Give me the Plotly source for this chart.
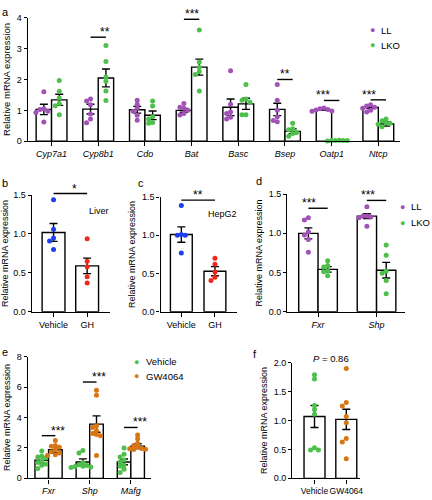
import plotly.graph_objects as go

W, H = 432, 500
FONT = "Liberation Sans, Arial, sans-serif"
PURPLE = "#a052b6"
GREEN = "#4dbf4a"
BLUE = "#1e3ef2"
RED = "#f0281c"
ORANGE = "#d97614"

# ---------------- data ----------------
# panel a
a_genes = ["Cyp7a1", "Cyp8b1", "Cdo", "Bat", "Basc", "Bsep", "Oatp1", "Ntcp"]
a_ll_mean = [1.03, 1.04, 1.02, 1.00, 1.10, 1.03, 1.02, 1.09]
a_ll_sem = [0.17, 0.16, 0.11, 0.06, 0.27, 0.20, 0.02, 0.03]
a_lko_mean = [1.34, 2.05, 0.84, 2.40, 1.21, 0.32, 0.02, 0.56]
a_lko_sem = [0.18, 0.29, 0.14, 0.26, 0.18, 0.08, 0.01, 0.07]
a_ll_pts = [
    [1.60, 1.05, 1.03, 0.97, 0.93, 0.62],
    [1.37, 1.30, 1.18, 0.88, 0.72, 0.60],
    [1.33, 1.20, 1.07, 0.97, 0.84, 0.68],
    [1.22, 1.10, 1.07, 1.00, 0.90, 0.85],
    [2.28, 1.20, 0.95, 0.90, 0.78, 0.72],
    [1.84, 1.33, 1.00, 0.79, 0.67, 0.63],
    [1.08, 1.05, 1.03, 1.01, 0.98, 0.97],
    [1.18, 1.14, 1.10, 1.07, 1.00, 0.95],
]
a_lko_pts = [
    [1.97, 1.62, 1.40, 1.22, 1.15, 0.86],
    [3.10, 2.58, 2.08, 1.94, 1.63, 1.32],
    [1.30, 1.14, 0.79, 0.72, 0.61, 0.58],
    [3.60, 2.57, 2.40, 2.26, 2.16, 1.63],
    [1.84, 1.37, 1.33, 1.26, 0.86, 0.86],
    [0.58, 0.40, 0.37, 0.28, 0.25, 0.16],
    [0.03, 0.02, 0.02, 0.02, 0.02, 0.01],
    [0.72, 0.66, 0.59, 0.58, 0.55, 0.47],
]
a_sig_idx = [1, 3, 5, 6, 7]
a_sig_txt = ["**", "***", "**", "***", "***"]
a_sig_y = [3.37, 3.95, 2.00, 1.32, 1.34]
a_yticks = [0, 1, 2, 3, 4]

# panel b
b_cats = ["Vehicle", "GH"]
b_mean = [1.02, 0.59]
b_sem = [0.115, 0.10]
b_pts = [[1.44, 1.06, 0.95, 0.91, 0.80], [0.94, 0.65, 0.58, 0.45, 0.37]]
b_sig = ("*", 1.52)

# panel c
c_cats = ["Vehicle", "GH"]
c_mean = [1.01, 0.53]
c_sem = [0.10, 0.06]
c_pts = [[1.39, 1.01, 1.00, 1.00, 0.77], [0.70, 0.62, 0.52, 0.45, 0.41]]
c_sig = ("**", 1.46)
bcd_yticks = [0.0, 0.5, 1.0, 1.5]

# panel d
d_genes = ["Fxr", "Shp"]
d_ll_mean = [1.00, 1.22]
d_ll_sem = [0.07, 0.03]
d_lko_mean = [0.54, 0.53]
d_lko_sem = [0.035, 0.10]
d_ll_pts = [[1.20, 1.17, 1.02, 0.98, 0.92, 0.76], [1.34, 1.22, 1.22, 1.21, 1.20, 1.09]]
d_lko_pts = [[0.65, 0.59, 0.57, 0.52, 0.51, 0.46], [0.85, 0.72, 0.52, 0.49, 0.40, 0.23]]
d_sig_txt = ["***", "***"]
d_sig_y = [1.32, 1.42]

# panel e
e_genes = ["Fxr", "Shp", "Mafg"]
e_veh_mean = [1.19, 1.08, 1.08]
e_veh_sem = [0.20, 0.20, 0.19]
e_gw_mean = [1.88, 3.57, 2.12]
e_gw_sem = [0.20, 0.54, 0.16]
e_veh_pts = [
    [1.80, 1.47, 1.40, 1.34, 1.15, 1.04, 0.95, 0.86, 0.65],
    [1.84, 1.66, 1.05, 0.90, 0.85, 0.80, 0.78, 0.75, 0.72],
    [2.00, 1.58, 1.40, 1.20, 1.08, 0.86, 0.80, 0.60, 0.39],
]
e_gw_pts = [
    [2.49, 2.16, 2.12, 2.05, 1.90, 1.75, 1.66, 1.55, 1.51],
    [5.80, 5.47, 3.46, 3.35, 3.14, 2.95, 2.88, 2.80, 1.51],
    [2.85, 2.60, 2.31, 2.16, 2.05, 1.97, 1.95, 1.92, 1.90],
]
e_sig_txt = ["***", "***", "***"]
e_sig_y = [2.81, 6.34, 3.35]
e_yticks = [0, 2, 4, 6, 8]

# panel f
f_cats = ["Vehicle", "GW4064"]
f_mean = [1.07, 1.02]
f_sem = [0.19, 0.175]
f_pts = [[1.79, 1.72, 1.26, 1.19, 1.11, 0.53, 0.49, 0.49],
         [1.90, 1.31, 1.25, 1.07, 0.96, 0.69, 0.63, 0.34]]
f_ptext = "<i>P</i> = 0.86"
f_yticks = [0.0, 0.5, 1.0, 1.5, 2.0]

legend_ab = ["LL", "LKO"]
legend_e = ["Vehicle", "GW4064"]

# ---------------- geometry (pixels) ----------------
GEOM = {
    "":  dict(x=(28, 404), y=(13, 139), xr=[-0.51, 7.47], yr=[0, 4]),
    "2": dict(x=(32, 111), y=(194, 313), xr=[-0.65, 1.68], yr=[0, 1.5]),
    "3": dict(x=(162, 239), y=(196, 313), xr=[-0.62, 1.65], yr=[0, 1.5]),
    "4": dict(x=(290, 409), y=(193, 313), xr=[-0.525, 1.49], yr=[0, 1.5]),
    "5": dict(x=(28, 152), y=(359, 483), xr=[-0.506, 2.48], yr=[0, 8]),
    "6": dict(x=(295, 363), y=(365, 483), xr=[-0.70, 1.42], yr=[0, 2]),
}


def xd(x0, x1):
    return [x0 / W, x1 / W]


def yd(top, bot):
    return [1 - bot / H, 1 - top / H]


def to_paper(ax, xv, yv):
    g = GEOM[ax]
    x0, x1 = g["x"]
    top, bot = g["y"]
    px = x0 + (xv - g["xr"][0]) / (g["xr"][1] - g["xr"][0]) * (x1 - x0)
    py = bot - (yv - g["yr"][0]) / (g["yr"][1] - g["yr"][0]) * (bot - top)
    return px / W, 1 - py / H


def swarm(vals, ppu_y, ppu_x, d=4.0):
    placed = []
    res = [0.0] * len(vals)
    order = sorted(range(len(vals)), key=lambda i: -vals[i])
    for i in order:
        v = vals[i]
        for k in [0, -1, 1, -2, 2, -3, 3, -4, 4]:
            c = k * d
            ok = True
            for pv, pc in placed:
                dist = ((c - pc) ** 2 + ((v - pv) * ppu_y) ** 2) ** 0.5
                if dist < d * 0.95:
                    ok = False
                    break
            if ok:
                placed.append((v, c))
                res[i] = c / ppu_x
                break
    return res


fig = go.Figure()
annotations = []
shapes = []

BAR_LINE = dict(color="black", width=1.4)


def ERR(arr):
    return dict(type="data", array=arr, color="black", thickness=1.4, width=4)


def add_bars(xs, means, sems, width, ax):
    fig.add_trace(go.Bar(
        x=xs, y=means, width=width, xaxis="x" + ax, yaxis="y" + ax,
        marker=dict(color="white", line=BAR_LINE),
        error_y=ERR(sems), showlegend=False, hoverinfo="skip"))


def add_points(center, pts, color, ppu_y, ppu_x, ax, size=5):
    offs = swarm(pts, ppu_y, ppu_x)
    fig.add_trace(go.Scatter(
        x=[center + o for o in offs], y=pts, mode="markers",
        xaxis="x" + ax, yaxis="y" + ax, cliponaxis=False,
        marker=dict(color=color, size=size, line=dict(width=0)),
        showlegend=False, hoverinfo="skip"))


def add_sig(x0, x1, y, txt, ax, fs=12):
    px0, py = to_paper(ax, x0, y)
    px1, _ = to_paper(ax, x1, y)
    shapes.append(dict(type="line", xref="paper", yref="paper", x0=px0, x1=px1,
                       y0=py, y1=py, line=dict(color="black", width=1.4)))
    annotations.append(dict(xref="paper", yref="paper", x=(px0 + px1) / 2, y=py,
                            text=txt, showarrow=False, yanchor="bottom", yshift=-4,
                            font=dict(size=fs, color="black", family=FONT)))


def paper_text(px, py, txt, size=9, xanchor="center", color="black"):
    annotations.append(dict(xref="paper", yref="paper", x=px / W, y=1 - py / H,
                            text=txt, showarrow=False, xanchor=xanchor, yanchor="middle",
                            font=dict(size=size, color=color, family=FONT)))


def legend(px, py, names, colors, gap=15):
    for i, (n, c) in enumerate(zip(names, colors)):
        paper_text(px, py + i * gap, "●", size=9, color=c)
        paper_text(px + 7, py + i * gap, n, size=9.5, xanchor="left")


# ---------------- panel a ----------------
HALF = 0.165
idx = list(range(len(a_genes)))
add_bars([i - HALF for i in idx], a_ll_mean, a_ll_sem, 0.33, "")
add_bars([i + HALF for i in idx], a_lko_mean, a_lko_sem, 0.33, "")
for i in idx:
    add_points(i - HALF, a_ll_pts[i], PURPLE, 31.5, 47.1, "")
    add_points(i + HALF, a_lko_pts[i], GREEN, 31.5, 47.1, "")
for i, t, y in zip(a_sig_idx, a_sig_txt, a_sig_y):
    add_sig(i - HALF, i + HALF, y, t, "")
legend(376, 26, legend_ab, [PURPLE, GREEN])

# ---------------- panel b ----------------
add_bars([0, 1], b_mean, b_sem, 0.68, "2")
add_points(0, b_pts[0], BLUE, 79.3, 34, "2")
add_points(1, b_pts[1], RED, 79.3, 34, "2")
add_sig(0, 1, b_sig[1], b_sig[0], "2")
paper_text(100, 210, "Liver", size=9)

# ---------------- panel c ----------------
add_bars([0, 1], c_mean, c_sem, 0.65, "3")
add_points(0, c_pts[0], BLUE, 78, 34, "3")
add_points(1, c_pts[1], RED, 78, 34, "3")
add_sig(0, 1, c_sig[1], c_sig[0], "3")
paper_text(225, 213, "HepG2", size=9)

# ---------------- panel d ----------------
didx = list(range(len(d_genes)))
add_bars([i - HALF for i in didx], d_ll_mean, d_ll_sem, 0.33, "4")
add_bars([i + HALF for i in didx], d_lko_mean, d_lko_sem, 0.33, "4")
for i in didx:
    add_points(i - HALF, d_ll_pts[i], PURPLE, 80, 59, "4")
    add_points(i + HALF, d_lko_pts[i], GREEN, 80, 59, "4")
    add_sig(i - HALF, i + HALF, d_sig_y[i], d_sig_txt[i], "4")
legend(406, 206, legend_ab, [PURPLE, GREEN], gap=16)

# ---------------- panel e ----------------
eidx = list(range(len(e_genes)))
add_bars([i - HALF for i in eidx], e_veh_mean, e_veh_sem, 0.33, "5")
add_bars([i + HALF for i in eidx], e_gw_mean, e_gw_sem, 0.33, "5")
for i in eidx:
    add_points(i - HALF, e_veh_pts[i], GREEN, 15.5, 41.5, "5")
    add_points(i + HALF, e_gw_pts[i], ORANGE, 15.5, 41.5, "5")
    add_sig(i - HALF, i + HALF, e_sig_y[i], e_sig_txt[i], "5")
legend(138, 364, legend_e, [GREEN, ORANGE])

# ---------------- panel f ----------------
add_bars([0, 1], f_mean, f_sem, 0.66, "6")
add_points(0, f_pts[0], GREEN, 59, 32, "6")
add_points(1, f_pts[1], ORANGE, 59, 32, "6")
paper_text(334, 361, f_ptext, size=9.5)

# panel letters
for lt, px, py in [("a", 6, 7), ("b", 5, 182), ("c", 142, 182), ("d", 261, 180),
                   ("e", 5, 354), ("f", 257, 356)]:
    paper_text(px, py, lt, size=11)


# ---------------- axes ----------------
def xaxis(ax, tickvals, ticktext, anchor, fsize=9):
    g = GEOM[ax]
    return dict(domain=xd(*g["x"]), range=g["xr"], anchor=anchor, tickvals=tickvals,
                ticktext=ticktext, ticks="outside", ticklen=4, tickwidth=1.4,
                tickcolor="black", showline=True, linewidth=1.4, linecolor="black",
                showgrid=False, zeroline=False, fixedrange=True, tickangle=0,
                tickfont=dict(size=fsize, color="black", family=FONT))


def yaxis(ax, tickvals, ticktext, anchor, tsize=9):
    g = GEOM[ax]
    return dict(domain=yd(*g["y"]), range=g["yr"], anchor=anchor, tickvals=tickvals,
                ticktext=ticktext, ticks="outside", ticklen=3, tickwidth=1.4,
                tickcolor="black", showline=True, linewidth=1.4, linecolor="black",
                showgrid=False, zeroline=False, fixedrange=True,
                tickfont=dict(size=9, color="black", family=FONT),
                title=dict(text="Relative mRNA expression", standoff=4,
                           font=dict(size=tsize, color="black", family=FONT)))


def fmt1(v):
    return f"{v:.1f}"


layout = dict(
    width=W, height=H, margin=dict(l=0, r=0, t=0, b=0),
    paper_bgcolor="white", plot_bgcolor="rgba(0,0,0,0)",
    barmode="overlay", showlegend=False,
    font=dict(family=FONT, color="black"),
    xaxis=xaxis("", idx, [f"<i>{g}</i>" for g in a_genes], "y"),
    yaxis=yaxis("", a_yticks, [str(v) for v in a_yticks], "x", tsize=9.5),
    xaxis2=xaxis("2", [0, 1], b_cats, "y2"),
    yaxis2=yaxis("2", bcd_yticks, [fmt1(v) for v in bcd_yticks], "x2"),
    xaxis3=xaxis("3", [0, 1], c_cats, "y3"),
    yaxis3=yaxis("3", bcd_yticks, [fmt1(v) for v in bcd_yticks], "x3"),
    xaxis4=xaxis("4", didx, [f"<i>{g}</i>" for g in d_genes], "y4"),
    yaxis4=yaxis("4", bcd_yticks, [fmt1(v) for v in bcd_yticks], "x4"),
    xaxis5=xaxis("5", eidx, [f"<i>{g}</i>" for g in e_genes], "y5"),
    yaxis5=yaxis("5", e_yticks, [str(v) for v in e_yticks], "x5"),
    xaxis6=xaxis("6", [0, 1], f_cats, "y6", fsize=8.5),
    yaxis6=yaxis("6", f_yticks, [fmt1(v) for v in f_yticks], "x6"),
    annotations=annotations, shapes=shapes,
)
fig.update_layout(**layout)
fig.write_html(
    "out.html",
    config={"displayModeBar": False},
    post_script="document.body.style.margin='0';document.body.style.padding='0';"
                "document.documentElement.style.overflow='hidden';",
)
